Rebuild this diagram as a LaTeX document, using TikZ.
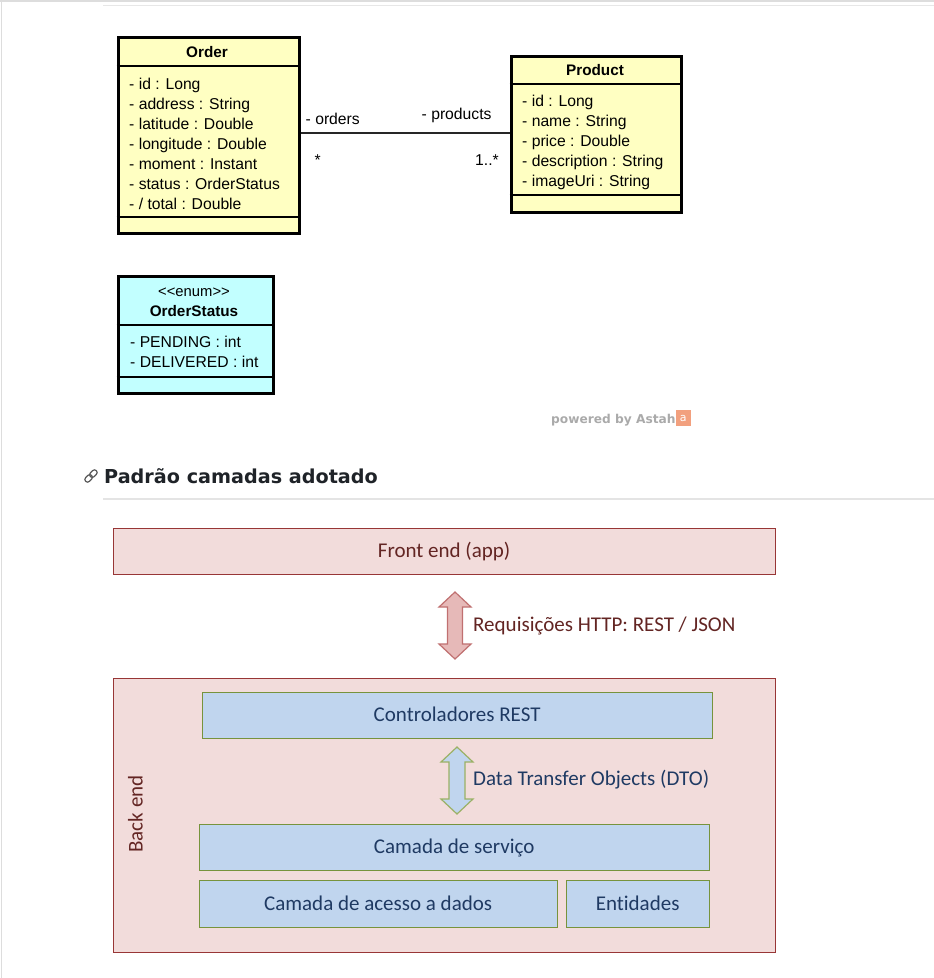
\documentclass[tikz,border=0pt]{standalone}
\usepackage{fontspec}
\setmainfont{Liberation Sans}
\newfontfamily\calibri{Carlito}[Ligatures=NoCommon]
\newfontfamily\headfont{DejaVu Sans}
\newfontfamily\astahfont{DejaVu Sans}
\usetikzlibrary{calc}
\definecolor{umlyellow}{HTML}{FFFFC2}
\definecolor{umlcyan}{HTML}{C2FFFF}
\definecolor{pinkfill}{HTML}{F2DCDB}
\definecolor{pinkdraw}{HTML}{983636}
\definecolor{bluefill}{HTML}{C0D5EE}
\definecolor{greendraw}{HTML}{77933C}
\definecolor{redtext}{HTML}{632523}
\definecolor{navytext}{HTML}{1F3A63}
\definecolor{parrowfill}{HTML}{E6B9B8}
\definecolor{parrowdraw}{HTML}{C07070}
\definecolor{barrowdraw}{HTML}{9BB165}
\definecolor{headcol}{HTML}{1F2328}
\definecolor{rulegray}{HTML}{DDDDDD}
\definecolor{astahgray}{HTML}{AAAAAA}
\definecolor{astahorange}{HTML}{F2A07E}
\tikzset{
  umlbox/.style={draw=black, line width=3pt, anchor=north west, inner sep=0pt},
  umldiv/.style={draw=black, line width=1.2pt},
  umltext/.style={anchor=base west, inner sep=0pt, font=\fontsize{15.7}{18}\selectfont},
  umltitle/.style={anchor=base, inner sep=0pt, font=\bfseries\fontsize{15.3}{18}\selectfont},
  pinkbox/.style={draw=pinkdraw, fill=pinkfill, line width=1.3pt, anchor=north west, inner sep=0pt,
    text=redtext, font=\calibri\fontsize{21}{24}\selectfont, text height=15pt, text depth=2pt},
  bluebox/.style={draw=greendraw, fill=bluefill, line width=1.3pt, anchor=north west, inner sep=0pt,
    text=navytext, font=\calibri\fontsize{21}{24}\selectfont, text height=15pt, text depth=2pt},
  layerlabel/.style={anchor=base west, inner sep=0pt, font=\calibri\fontsize{21}{24}\selectfont},
}
\begin{document}
\begin{tikzpicture}[x=1pt,y=-1pt]
\useasboundingbox (0,0) rectangle (934,978);
\fill[white] (0,0) rectangle (934,978);
% page edges
\draw[rulegray, line width=1.5pt] (0,1) -- (934,1);
\draw[rulegray, line width=1.5pt] (1.5,0) -- (1.5,978);
\draw[rulegray!70, line width=1.3pt] (103,5.3) -- (934,5.3);

% ---------- UML ----------
\node[umlbox, fill=umlyellow, minimum width=181pt, minimum height=196pt] (order) at (116.5,35.5) {};
\draw[umldiv] (116.5,66) -- (297.5,66);
\draw[umldiv] (116.5,217) -- (297.5,217);
\node[umltitle] (ordert) at (207,57.5) {Order};
\node[umltext] (o1) at (129,89.5) {- id : Long};
\node[umltext] (o2) at (129,109.5) {- address : String};
\node[umltext] (o3) at (129,129.5) {- latitude : Double};
\node[umltext] (o4) at (129,149.5) {- longitude : Double};
\node[umltext] (o5) at (129,169.5) {- moment : Instant};
\node[umltext] (o6) at (129,189.5) {- status : OrderStatus};
\node[umltext] (o7) at (129,209.5) {- / total : Double};

\node[umlbox, fill=umlyellow, minimum width=170pt, minimum height=156pt] (product) at (509.5,54.5) {};
\draw[umldiv] (509.5,84) -- (679.5,84);
\draw[umldiv] (509.5,195) -- (679.5,195);
\node[umltitle] (productt) at (595,75) {Product};
\node[umltext] (p1) at (522,106) {- id : Long};
\node[umltext] (p2) at (522,126) {- name : String};
\node[umltext] (p3) at (522,146) {- price : Double};
\node[umltext] (p4) at (522,166) {- description : String};
\node[umltext] (p5) at (522,186) {- imageUri : String};

\draw[black!85, line width=1.4pt] (order.east |- 0,133) -- (product.west |- 0,133);
\node[umltext] (lorders) at (305.5,124) {- orders};
\node[umltext] (lproducts) at (421.5,119.5) {- products};
\node[umltext] (mstar) at (314.5,165.5) {*};
\node[umltext] (mone) at (475,165.5) {1..*};

\node[umlbox, fill=umlcyan, minimum width=155pt, minimum height=117pt] (status) at (116.5,274.5) {};
\draw[umldiv] (116.5,325) -- (271.5,325);
\draw[umldiv] (116.5,377) -- (271.5,377);
\node[anchor=base, inner sep=0pt, font=\fontsize{14.8}{17}\selectfont] (enum) at (194,296) {<{}<enum>{}>};
\node[umltitle] (statust) at (194,316.7) {OrderStatus};
\node[umltext] (s1) at (130,347.3) {- PENDING : int};
\node[umltext] (s2) at (130,367) {- DELIVERED : int};

% powered by Astah
\node[anchor=base west, inner sep=0pt, text=astahgray, font=\astahfont\bfseries\fontsize{12.2}{14}\selectfont] (powered) at (551,423) {powered by Astah};
\node[fill=astahorange, anchor=north west, inner sep=0pt, minimum width=15pt, minimum height=16pt,
  text=white, font=\astahfont\fontsize{11}{12}\selectfont] (logo) at (675.5,410) {a};

% ---------- heading ----------
\begin{scope}[shift={(91,476)}, rotate=45]
  \draw[black!65, line width=1.2pt, rounded corners=2.4pt] (-7.5,-2.6) rectangle (0.8,2.6);
  \draw[black!65, line width=1.2pt, rounded corners=2.4pt] (-0.8,-2.6) rectangle (7.5,2.6);
\end{scope}
\node[anchor=base west, inner sep=0pt, text=headcol, font=\headfont\bfseries\fontsize{19.2}{22}\selectfont] (heading) at (104,483) {Padrão camadas adotado};
\draw[rulegray!80, line width=1.2pt] (103,499) -- (934,499);

% ---------- layers ----------
\node[pinkbox, minimum width=662pt, minimum height=46pt] (front) at (112.5,527.5) {Front end (app)};
\node[pinkbox, minimum width=662pt, minimum height=274pt] (back) at (112.5,677.5) {};
\node[bluebox, minimum width=510pt, minimum height=46pt] (ctrl) at (201.5,691.5) {Controladores REST};
\node[bluebox, minimum width=510pt, minimum height=46pt] (serv) at (198.5,823.5) {Camada de serviço};
\node[bluebox, minimum width=358pt, minimum height=47pt] (repo) at (198.5,879.5) {Camada de acesso a dados};
\node[bluebox, minimum width=143pt, minimum height=47pt] (ent) at (565.5,879.5) {Entidades};
\node[rotate=90, anchor=base, inner sep=0pt, text=redtext, font=\calibri\fontsize{21}{24}\selectfont] (backl) at (142.5,814) {Back end};

% double arrows
\draw[draw=parrowdraw, fill=parrowfill, line width=1.2pt, line join=miter]
  (455,592) -- (471,607) -- (462.5,607) -- (462.5,644) -- (471,644) -- (455,659)
  -- (439,644) -- (447.5,644) -- (447.5,607) -- (439,607) -- cycle;
\node[layerlabel, text=redtext] (httpl) at (473,631.5) {Requisições HTTP: REST / JSON};

\draw[draw=barrowdraw, fill=bluefill, line width=1.2pt, line join=miter]
  (457,747) -- (473,762) -- (465,762) -- (465,799) -- (473,799) -- (457,814)
  -- (441,799) -- (449,799) -- (449,762) -- (441,762) -- cycle;
\node[layerlabel, text=navytext] (dtol) at (473,785) {Data Transfer Objects (DTO)};
\end{tikzpicture}
\end{document}
